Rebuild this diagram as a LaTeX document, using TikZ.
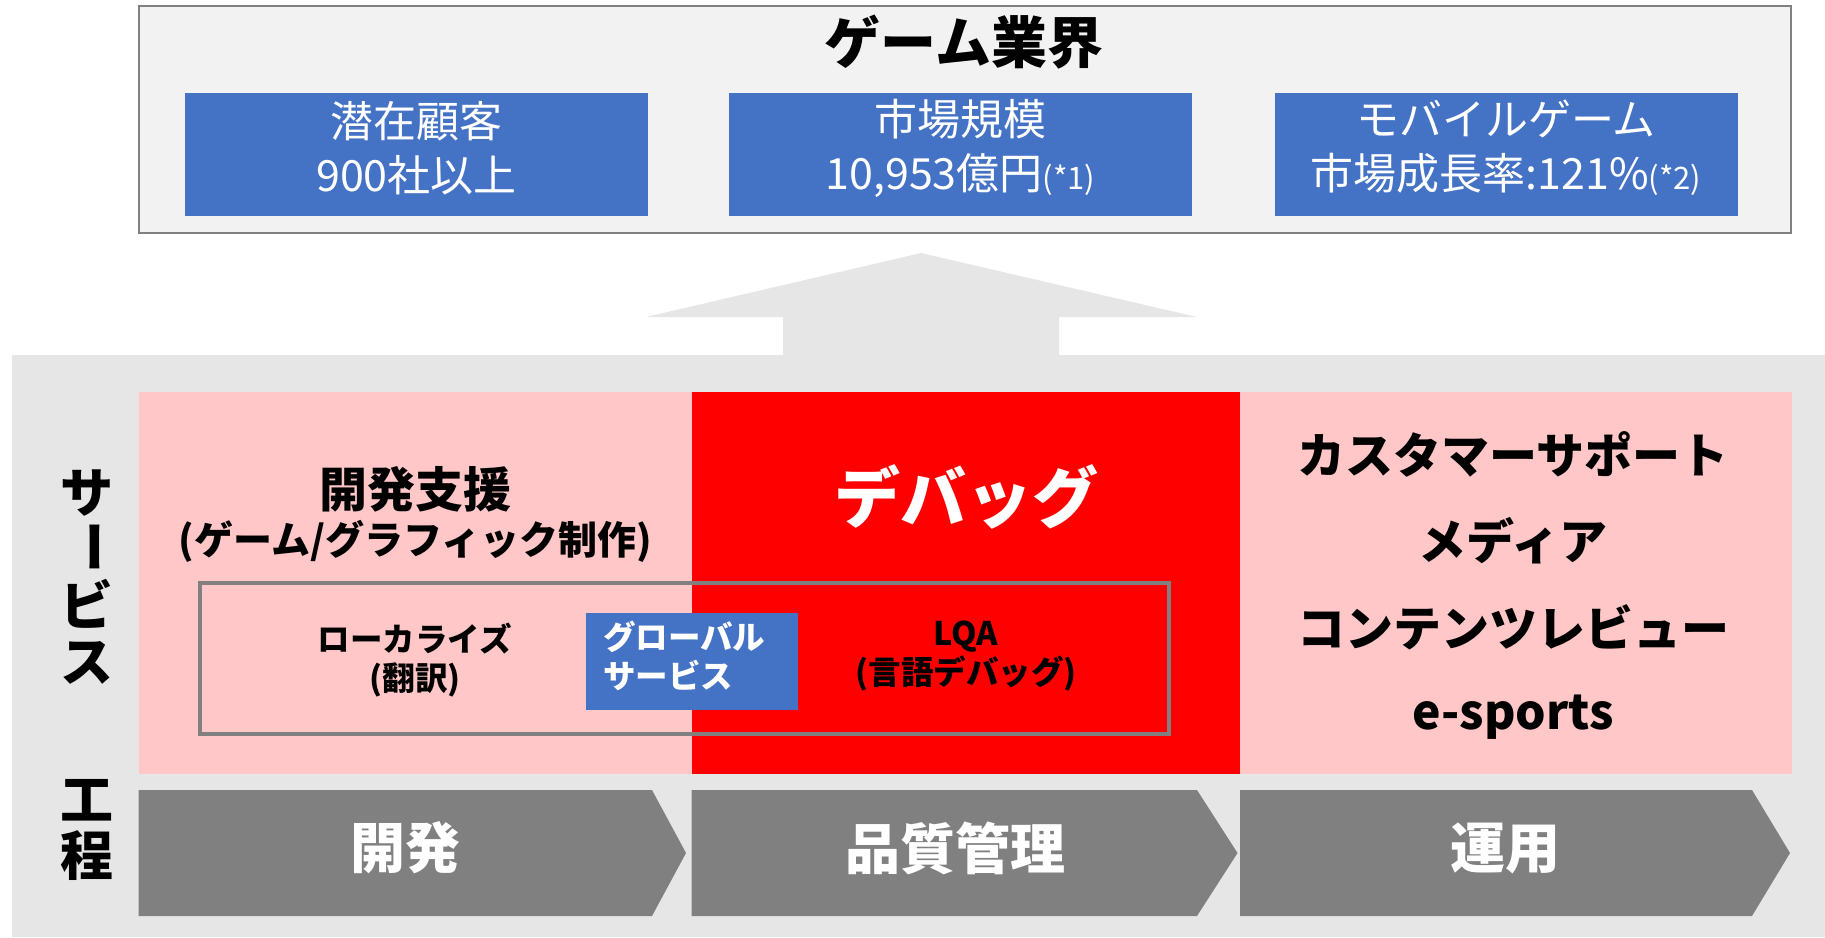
\documentclass[tikz,border=0pt]{standalone}
\usepackage{fontspec}
\setmainfont{Noto Sans CJK JP}
\begin{document}
\begin{tikzpicture}[x=1pt,y=-1pt,
  every node/.style={inner sep=0pt,outer sep=0pt},
  bluebox/.style={fill=myblue,minimum width=463pt,minimum height=123pt},
  bluetxt/.style={text=white,align=center,font=\fontsize{43}{54}\selectfont},
  head/.style={font=\bfseries\fontsize{48}{52}\selectfont,align=center},
  small/.style={font=\bfseries\fontsize{32.5}{39}\selectfont,align=center},
  chevtxt/.style={text=white,font=\bfseries\fontsize{55}{60}\selectfont},
  vert/.style={font=\bfseries\fontsize{53}{55}\selectfont}
]
\definecolor{myblue}{HTML}{4472C4}
\definecolor{topfill}{HTML}{F2F2F2}
\definecolor{band}{HTML}{E6E6E6}
\definecolor{pinkc}{HTML}{FFC7C7}
\definecolor{chevgray}{HTML}{808080}
\useasboundingbox (0,0) rectangle (1825,937);
% top box
\node[draw=chevgray,line width=1.5pt,fill=topfill,minimum width=1652pt,minimum height=227pt] (top) at (964.75,119.5) {};
\node[font=\bfseries\fontsize{56}{60}\selectfont] (title) at (964,42) {ゲーム業界};
\node[bluebox] (b1) at (416.5,154.5) {};
\node[bluebox] (b2) at (960.5,154.5) {};
\node[bluebox] (b3) at (1506,154.5) {};
\node[bluetxt] (t1) at (416.5,148) {潜在顧客\\900社以上};
\node[bluetxt] (t2) at (960.5,148) {市場規模\\10,953億円{\fontsize{31}{32}\selectfont(*1)}};
\node[bluetxt] (t3) at (1506,148) {モバイルゲーム\\市場成長率:121\%{\fontsize{31}{32}\selectfont(*2)}};
% band
\fill[band] (12,355) rectangle (1825,937);
% arrow
\fill[band] (921,253) -- (1197,317) -- (1059,317) -- (1059,356) -- (783,356) -- (783,317) -- (646,317) -- cycle;
% cells
\fill[pinkc] (138.5,392) rectangle (691.5,774);
\fill[red] (691.5,392) rectangle (1240,774);
\fill[pinkc] (1240,392) rectangle (1792,774);
\draw[chevgray,line width=4pt] (200,583) rectangle (1169,734);
\node[fill=myblue,minimum width=212pt,minimum height=97.5pt] (gs) at (691.5,661.25) {};
% cell texts
\node[head] (dev) at (415.6,489) {開発支援};
\node[font=\bfseries\fontsize{39}{42}\selectfont] (devsub) at (415.6,541) {(ゲーム/グラフィック制作)};
\node[text=white,font=\bfseries\fontsize{66}{70}\selectfont] (dbg) at (966,497) {デバッグ};
\node[head] (r1) at (1513,454) {カスタマーサポート};
\node[head] (r2) at (1513,541) {メディア};
\node[head] (r3) at (1513,627) {コンテンツレビュー};
\node[head] (r4) at (1513,717) {e-sports};
\node[small] (loc) at (415,660) {ローカライズ\\(翻訳)};
\node[small,text=white,align=left,anchor=west] (glob) at (603,656) {グローバル\\サービス};
\node[small] (lqa) at (966,656) {LQA\\(言語デバッグ)};
% chevrons
\fill[chevgray] (138.5,790) -- (652,790) -- (686,853) -- (652,916) -- (138.5,916) -- cycle;
\fill[chevgray] (691.5,790) -- (1197,790) -- (1237.5,853) -- (1197,916) -- (691.5,916) -- cycle;
\fill[chevgray] (1240,790) -- (1752,790) -- (1790,853) -- (1752,916) -- (1240,916) -- cycle;
\node[chevtxt] (c1) at (405,848) {開発};
\node[chevtxt] (c2) at (955,848) {品質管理};
\node[chevtxt] (c3) at (1505,848) {運用};
% vertical labels
\node[vert] (s1) at (87,493) {サ};
\node[vert,rotate=-90] (s2) at (87,547) {ー};
\node[vert] (s3) at (87,604) {ビ};
\node[vert] (s4) at (87,663) {ス};
\node[vert] (k1) at (87,800) {工};
\node[vert] (k2) at (87,856) {程};
\end{tikzpicture}
\end{document}
